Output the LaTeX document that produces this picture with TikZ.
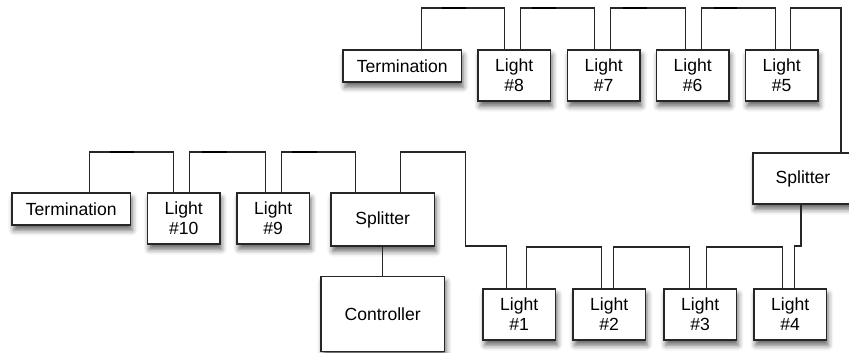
\documentclass[tikz,border=0pt]{standalone}
\usepackage{fontspec}
\setmainfont{Liberation Sans}
\usetikzlibrary{positioning, calc, shadows.blur}

\begin{document}
\begin{tikzpicture}[x=0.02cm, y=-0.02cm,
  unit/.style={
    draw=black!85, fill=white, line width=0.8pt,
    align=center, inner sep=0pt, outer sep=0pt,
    font=\fontsize{10}{11.5}\selectfont,
    blur shadow={shadow xshift=1pt, shadow yshift=-3pt,
                 shadow blur radius=3pt, shadow opacity=60}
  },
  light/.style={unit, minimum width=1.45cm, minimum height=1.02cm},
  term/.style={unit, minimum width=2.37cm, minimum height=0.64cm},
  split/.style={unit, minimum width=2.07cm, minimum height=1.06cm},
  ctrl/.style={unit, minimum width=2.47cm, minimum height=1.5cm},
  wire/.style={line width=0.6pt, color=black!85},
  heavy/.style={line width=1.3pt, color=black},
]
\useasboundingbox (0,0) rectangle (849,352);

% ===== Upper chain =====
\node[term, anchor=north west] (term1) at (343,50) {Termination};
\node[light, right=0.33cm of term1.north east, anchor=north west] (l8) {Light\\\#8};
\node[light, right=0.34cm of l8.north east, anchor=north west] (l7) {Light\\\#7};
\node[light, right=0.33cm of l7.north east, anchor=north west] (l6) {Light\\\#6};
\node[light, right=0.33cm of l6.north east, anchor=north west] (l5) {Light\\\#5};

% ===== Middle chain =====
\node[term, anchor=north west] (term2) at (12,193) {Termination};
\node[light, right=0.34cm of term2.north east, anchor=north west] (l10) {Light\\\#10};
\node[light, right=0.34cm of l10.north east, anchor=north west] (l9) {Light\\\#9};
\node[split, right=0.43cm of l9.north east, anchor=north west] (split1) {Splitter};
\node[ctrl, below=0.61cm of split1] (ctrl) {Controller};

% ===== Lower chain =====
\node[light, anchor=north west] (l1) at (483,289) {Light\\\#1};
\node[light, right=0.35cm of l1.north east, anchor=north west] (l2) {Light\\\#2};
\node[light, right=0.37cm of l2.north east, anchor=north west] (l3) {Light\\\#3};
\node[light, right=0.35cm of l3.north east, anchor=north west] (l4) {Light\\\#4};
\node[split, minimum width=2.0cm, minimum height=1.02cm, anchor=north west] (split2) at (753,153) {Splitter};

% ===== Wires =====
\draw[wire] ($(term1.north)+(19,0)$) -- ++(0,-42) -- ++(21,0) edge[heavy] +(24,0) -| ($(l8.north)+(-10,0)$);
\draw[wire] ($(l8.north)+(6,0)$) -- ++(0,-42) -- ++(12,0) edge[heavy] +(24,0) -| ($(l7.north)+(-9,0)$);
\draw[wire] ($(l7.north)+(7,0)$) -- ++(0,-42) -- ++(12,0) edge[heavy] +(24,0) -| ($(l6.north)+(-7,0)$);
\draw[wire] ($(l6.north)+(9,0)$) -- ++(0,-42) -- ++(12,0) edge[heavy] +(23,0) -| ($(l5.north)+(-6,0)$);
\draw[wire] ($(l5.north)+(9,0)$) -- ++(0,-42) -| ($(split2.north)+(38,0)$);

\draw[wire] ($(term2.north)+(18,0)$) -- ++(0,-41) -- ++(21,0) edge[heavy] +(24,0) -| ($(l10.north)+(-10,0)$);
\draw[wire] ($(l10.north)+(6,0)$) -- ++(0,-41) -- ++(12,0) edge[heavy] +(25,0) -| ($(l9.north)+(-8,0)$);
\draw[wire] ($(l9.north)+(8,0)$) -- ++(0,-41) -- ++(11,0) edge[heavy] +(25,0) -| ($(split1.north)+(-27,0)$);
\draw[wire] ($(split1.north)+(18,0)$) -- ++(0,-41) -| ++(65,94) -| ($(l1.north)+(-13,0)$);
\draw[wire] (split1) -- (ctrl);

\draw[wire] ($(l1.north)+(7,0)$) -- ++(0,-42) -| ($(l2.north)+(-8,0)$);
\draw[wire] ($(l2.north)+(4,0)$) -- ++(0,-42) -| ($(l3.north)+(-11,0)$);
\draw[wire] ($(l3.north)+(6,0)$) -- ++(0,-42) -| ($(l4.north)+(-8,0)$);
\draw[wire] ($(split2.south)+(-2,0)$) -- ++(0,42) -| ($(l4.north)+(4,0)$);

\end{tikzpicture}
\end{document}
